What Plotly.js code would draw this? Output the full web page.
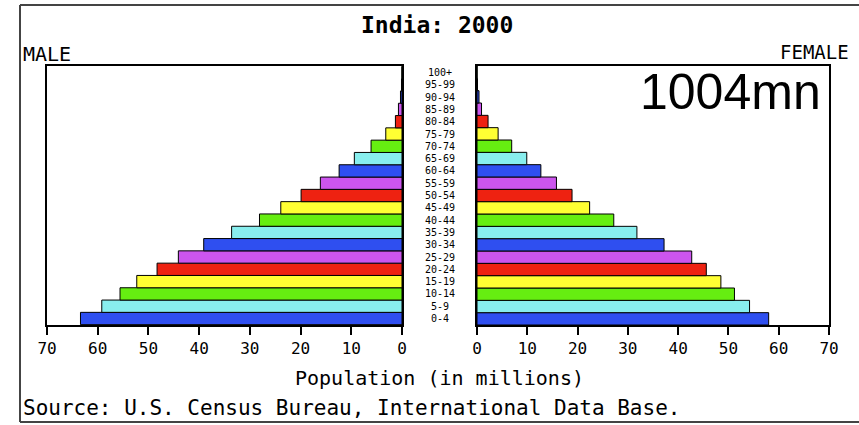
<!DOCTYPE html>
<html>
<head>
<meta charset="utf-8">
<script src="https://cdn.plot.ly/plotly-3.0.1.min.js"></script>
<style>html,body{margin:0;padding:0;background:#fff;}#chart{width:859px;height:425px;}</style>
</head>
<body>
<div id="chart"></div>
<script>
var ageGroups = ["0-4","5-9","10-14","15-19","20-24","25-29","30-34","35-39","40-44","45-49","50-54","55-59","60-64","65-69","70-74","75-79","80-84","85-89","90-94","95-99","100+"];
var maleMillions = [63.4, 59.2, 55.6, 52.3, 48.3, 44.1, 39.1, 33.6, 28.1, 23.9, 19.9, 16.1, 12.4, 9.4, 6.1, 3.2, 1.3, 0.7, 0.3, 0.1, 0.03];
var femaleMillions = [58.0, 54.2, 51.2, 48.5, 45.6, 42.7, 37.2, 31.8, 27.2, 22.4, 18.9, 15.8, 12.7, 9.9, 6.9, 4.2, 2.2, 0.9, 0.4, 0.1, 0.03];
var xTicks = [0, 10, 20, 30, 40, 50, 60, 70];
var titleText = "India: 2000";
var totalText = "1004mn";

var palette = ["#2f4ff0", "#88eeee", "#66ee11", "#ffff33", "#ee2211", "#cc55ee"];
var barColors = ageGroups.map(function(_, i){ return palette[i % palette.length]; });

var W = 859, H = 425;
function px(x){ return x / W; }
function py(y){ return 1 - y / H; }

var mono = "DejaVu Sans Mono, Liberation Mono, monospace";

var traces = [
  {type:"bar", orientation:"h", x: maleMillions, y: ageGroups, xaxis:"x", yaxis:"y",
   marker:{color: barColors, line:{color:"#000", width:1}}, hoverinfo:"x+y", showlegend:false},
  {type:"bar", orientation:"h", x: femaleMillions, y: ageGroups, xaxis:"x2", yaxis:"y2",
   marker:{color: barColors, line:{color:"#000", width:1}}, hoverinfo:"x+y", showlegend:false}
];

var ydom = [py(325), py(66)];
var axisCommon = {
  showline:true, mirror:true, linecolor:"#000", linewidth:2,
  ticks:"outside", ticklen:8, tickwidth:2, tickcolor:"#000",
  tickvals: xTicks, ticktext: xTicks.map(String),
  tickfont:{family: mono, size:16, color:"#000"},
  showgrid:false, zeroline:false, fixedrange:true
};
var yCommon = {
  type:"category", categoryorder:"array", categoryarray: ageGroups,
  showline:true, mirror:true, linecolor:"#000", linewidth:2,
  showticklabels:false, ticks:"", showgrid:false, zeroline:false,
  domain: ydom, fixedrange:true
};

var annotations = [
  {text:titleText, x:px(436.5), y:py(25), xref:"paper", yref:"paper", showarrow:false,
   font:{family:mono, size:23, color:"#000", weight:"bold"}, xanchor:"center", yanchor:"middle"},
  {text:"MALE", x:px(21), y:py(54), xref:"paper", yref:"paper", showarrow:false,
   font:{family:mono, size:20, color:"#000"}, xanchor:"left", yanchor:"middle"},
  {text:"FEMALE", x:px(851), y:py(52), xref:"paper", yref:"paper", showarrow:false,
   font:{family:mono, size:19, color:"#000"}, xanchor:"right", yanchor:"middle"},
  {text:"Population (in millions)", x:px(439), y:py(378), xref:"paper", yref:"paper", showarrow:false,
   font:{family:mono, size:20, color:"#000"}, xanchor:"center", yanchor:"middle"},
  {text:"Source: U.S. Census Bureau, International Data Base.", x:px(21), y:py(408), xref:"paper", yref:"paper", showarrow:false,
   font:{family:mono, size:21, color:"#000"}, xanchor:"left", yanchor:"middle"},
  {text:totalText, x:px(823), y:py(92), xref:"paper", yref:"paper", showarrow:false,
   font:{family:"Liberation Sans, Arial, sans-serif", size:50, color:"#000"}, xanchor:"right", yanchor:"middle"}
];
ageGroups.forEach(function(g){
  annotations.push({text:g, x:px(439.5), y:g, xref:"paper", yref:"y", showarrow:false,
    font:{family:mono, size:10, color:"#000"}, xanchor:"center", yanchor:"middle", borderpad:0});
});

var frame = {type:"line", xref:"paper", yref:"paper", line:{color:"#444", width:2}};
var shapes = [
  Object.assign({}, frame, {x0:px(20), x1:1, y0:py(5), y1:py(5)}),
  Object.assign({}, frame, {x0:px(20), x1:px(20), y0:py(5), y1:py(422)}),
  Object.assign({}, frame, {x0:px(20), x1:1, y0:py(422), y1:py(422)})
];

var layout = {
  width:W, height:H, margin:{l:0, r:0, t:0, b:0},
  paper_bgcolor:"#fff", plot_bgcolor:"#fff",
  bargap:0, showlegend:false,
  xaxis: Object.assign({}, axisCommon, {domain:[px(47), px(402)], range:[70, 0], anchor:"y"}),
  xaxis2: Object.assign({}, axisCommon, {domain:[px(477), px(829)], range:[0, 70], anchor:"y2"}),
  yaxis: Object.assign({}, yCommon, {anchor:"x"}),
  yaxis2: Object.assign({}, yCommon, {anchor:"x2"}),
  annotations: annotations,
  shapes: shapes
};

Plotly.newPlot("chart", traces, layout, {displayModeBar:false, staticPlot:true});
</script>
</body>
</html>
